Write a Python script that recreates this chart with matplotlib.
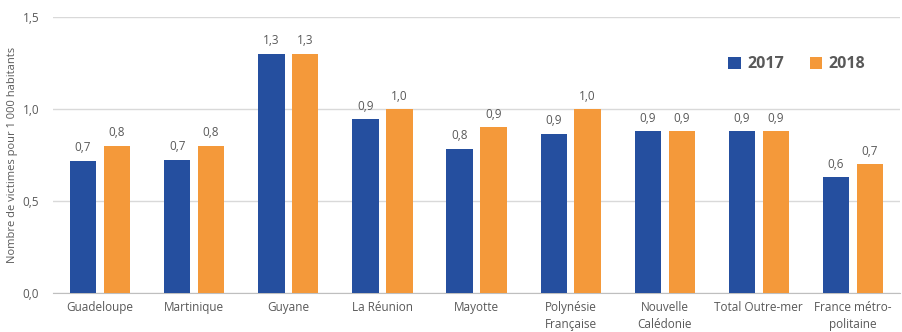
import numpy as np
import matplotlib.pyplot as plt

categories = ['Guadeloupe', 'Martinique', 'Guyane', 'La Réunion', 'Mayotte',
              'Polynésie\nFrançaise', 'Nouvelle\nCalédonie', 'Total Outre-mer',
              'France métro-\npolitaine']
v2017 = [0.72, 0.725, 1.30, 0.945, 0.785, 0.865, 0.88, 0.88, 0.63]
v2018 = [0.80, 0.80, 1.30, 1.00, 0.90, 1.00, 0.88, 0.88, 0.70]
lab2017 = ['0,7', '0,7', '1,3', '0,9', '0,8', '0,9', '0,9', '0,9', '0,6']
lab2018 = ['0,8', '0,8', '1,3', '1,0', '0,9', '1,0', '0,9', '0,9', '0,7']

plt.rcParams['font.family'] = ['Open Sans', 'DejaVu Sans']
grey = '#595959'
blue = '#254F9F'
orange = '#F4993A'

fig = plt.figure(figsize=(9.03, 3.32), dpi=100)
ax = fig.add_axes([0.0587, 0.1175, 0.938, 0.8313])

x = np.arange(len(categories))
w = 0.28
off = 0.18
b1 = ax.bar(x - off, v2017, w, color=blue, label='2017', zorder=3)
b2 = ax.bar(x + off, v2018, w, color=orange, label='2018', zorder=3)

for rect, t in zip(b1, lab2017):
    ax.text(rect.get_x() + rect.get_width() / 2, rect.get_height() + 0.035, t,
            ha='center', va='bottom', fontsize=8.5, color=grey)
for rect, t in zip(b2, lab2018):
    ax.text(rect.get_x() + rect.get_width() / 2, rect.get_height() + 0.035, t,
            ha='center', va='bottom', fontsize=8.5, color=grey)

ax.set_xlim(-0.5, len(categories) - 0.5)
ax.set_ylim(0, 1.5)
ax.set_yticks([0, 0.5, 1.0, 1.5])
ax.set_yticklabels(['0,0', '0,5', '1,0', '1,5'])
ax.set_xticks(x)
ax.set_xticklabels(categories, fontsize=8.5, color=grey, linespacing=1.4)
ax.tick_params(axis='y', length=0, labelsize=8.5, labelcolor=grey, pad=10)
ax.tick_params(axis='x', length=0, pad=6)
ax.yaxis.grid(True, color='#D9D9D9', linewidth=1, zorder=0)
for s in ['left', 'right', 'top']:
    ax.spines[s].set_visible(False)
ax.spines['bottom'].set_color('#BFBFBF')
ax.set_ylabel('Nombre de victimes pour 1 000 habitants', fontsize=8, color=grey, labelpad=3)

leg = ax.legend(loc='upper left', bbox_to_anchor=(0.78, 0.91), ncol=2, frameon=False,
                handlelength=0.8, handleheight=0.8, columnspacing=1.6, handletextpad=0.4,
                prop={'weight': 'bold', 'size': 11.5})
for t in leg.get_texts():
    t.set_color(grey)

fig.savefig('out.png', dpi=100)
